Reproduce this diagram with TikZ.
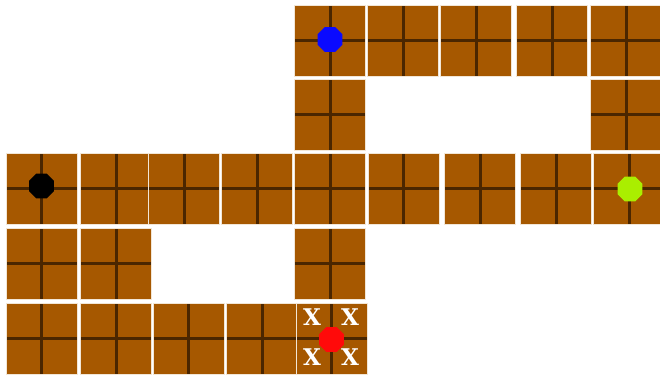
\documentclass[tikz,border=0pt]{standalone}
\usepackage{fontspec}
\newfontfamily\xfont{DejaVu Serif}
\usetikzlibrary{shapes.geometric}
\definecolor{cbrown}{HTML}{A65800}
\definecolor{cgroove}{HTML}{4A2600}
\definecolor{cedge}{HTML}{F2E6D6}
\definecolor{cblue}{HTML}{0A0AFF}
\definecolor{clime}{HTML}{AAEE00}
\definecolor{cred}{HTML}{FF0A0A}
\tikzset{
  tile/.style={draw=cedge, line width=0.8pt, fill=cbrown, minimum size=71pt, inner sep=0pt,
    path picture={\draw[cgroove, line width=3pt]
      (path picture bounding box.north) -- (path picture bounding box.south)
      (path picture bounding box.west) -- (path picture bounding box.east);}},
  token/.style={regular polygon, regular polygon sides=8, fill=#1, minimum size=27pt, inner sep=0pt},
  xmark/.style={text=white, font=\xfont\fontsize{23}{23}\selectfont\bfseries, inner sep=0pt},
}

\begin{document}
\begin{tikzpicture}[x=1pt, y=-1pt]
  \useasboundingbox (0,0) rectangle (660,377);
  % tiles, row by row
  \foreach \x [count=\i] in {330,403,476,552,626}
    \node[tile] (top\i) at (\x,40.5) {};
  \node[tile] (left1) at (330,114.5) {};
  \node[tile] (right1) at (626,114.5) {};
  \foreach \x [count=\i] in {41.5,116,184,257,330,403.5,480,556,629}
    \node[tile] (mid\i) at (\x,188.5) {};
  \node[tile] (low1) at (41.5,263.5) {};
  \node[tile] (low2) at (116,263.5) {};
  \node[tile] (low3) at (330,263.5) {};
  \foreach \x [count=\i] in {41.5,116,188.5,262,331.5}
    \node[tile] (bot\i) at (\x,338.5) {};
  % crosses on the last tile
  \node[xmark] (xa) at (312,317) {X};
  \node[xmark] (xb) at (350,317) {X};
  \node[xmark] (xc) at (312,357) {X};
  \node[xmark] (xd) at (350,357) {X};
  % tokens
  \node[token=cblue] (blue) at (330,39.5) {};
  \node[token=black] (black) at (41.5,186) {};
  \node[token=clime] (lime) at (630,189) {};
  \node[token=cred] (red) at (331.5,339.5) {};
\end{tikzpicture}
\end{document}
